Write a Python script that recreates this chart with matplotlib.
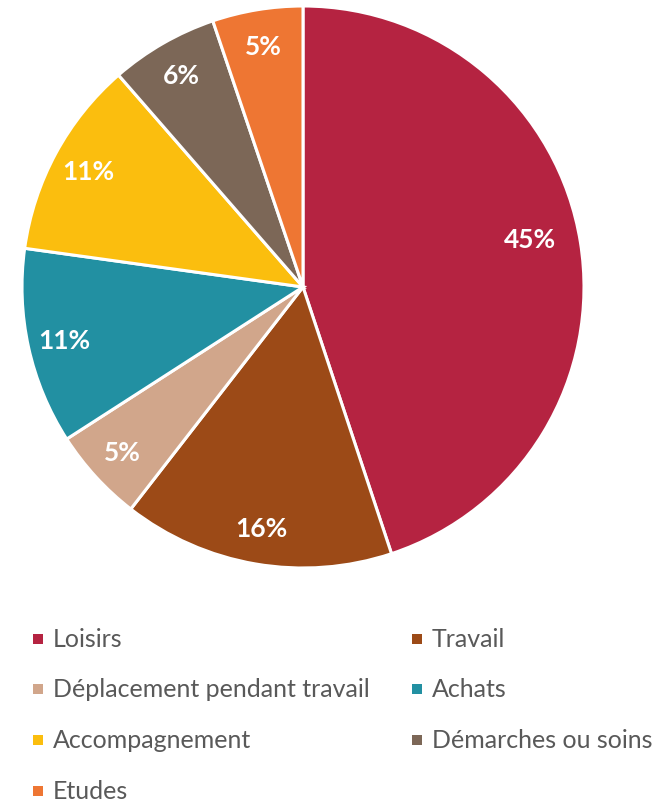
import matplotlib
matplotlib.use("Agg")
import matplotlib.pyplot as plt
from matplotlib.patches import Rectangle

categories = ["Loisirs", "Travail", "Déplacement pendant travail", "Achats",
              "Accompagnement", "Démarches ou soins", "Etudes"]
shares = [44.9, 15.6, 5.4, 11.3, 11.4, 6.2, 5.2]
colors = ["#B52341", "#9C4A17", "#D1A68B", "#2290A2",
          "#FBBE0E", "#7C6757", "#EE7633"]

W, H = 666, 803
fig = plt.figure(figsize=(W / 100, H / 100), dpi=100)
fig.patch.set_facecolor("white")

cx, cy, r = 303, 288, 281
ax = fig.add_axes([(cx - r) / W, 1 - (cy + r) / H, 2 * r / W, 2 * r / H])
ax.set_aspect("equal")

wedges, texts, autotexts = ax.pie(
    shares, colors=colors, startangle=90, counterclock=False, radius=1.0,
    autopct=lambda p: f"{p:.0f}%", pctdistance=0.87,
    wedgeprops=dict(edgecolor="white", linewidth=2.2),
    textprops=dict(color="white", fontsize=19, fontweight="bold", family="Lato"),
)
# pull the large slice's label slightly inward
x0, y0 = autotexts[0].get_position()
autotexts[0].set_position((x0 * 0.94, y0 * 0.94 + 0.04))

ax.set_xlim(-1.0, 1.0)
ax.set_ylim(-1.0, 1.0)
ax.axis("off")

# Legend laid out in two columns below the pie
col_x = [33, 412]
row_y = [640, 690, 741, 792]
for i, (name, col) in enumerate(zip(categories, colors)):
    x = col_x[i % 2]
    y = row_y[i // 2]
    fig.add_artist(Rectangle((x / W, 1 - (y + 5) / H), 10 / W, 10 / H,
                             transform=fig.transFigure, facecolor=col,
                             edgecolor="none"))
    fig.text((x + 20) / W, 1 - y / H, name, fontsize=18, family="Lato",
             color="#595959", va="center", ha="left")

fig.savefig("out.png", dpi=100, facecolor="white")
